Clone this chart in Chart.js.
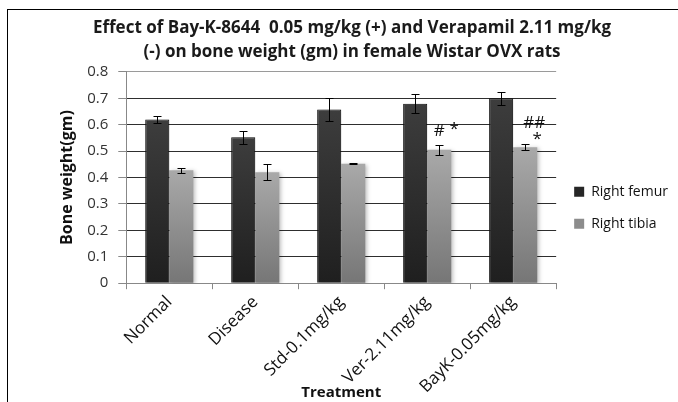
<!DOCTYPE html>
<html>
<head>
<meta charset="utf-8">
<script src="https://cdn.jsdelivr.net/npm/chart.js@4.4.1/dist/chart.umd.min.js"></script>
<style>
  html, body { margin: 0; padding: 0; background: #fff; }
  #wrap { position: relative; width: 678px; height: 402px; }
  #frame {
    position: absolute; left: 7px; top: 9px; width: 700px; height: 420px;
    border-left: 1px solid #000; border-top: 1px solid #000; pointer-events: none;
  }
</style>
</head>
<body>
<div id="wrap">
  <canvas id="boneChart" width="678" height="402"></canvas>
  <div id="frame"></div>
</div>
<script>
const treatments = ['Normal', 'Disease', 'Std-0.1mg/kg', 'Ver-2.11mg/kg', 'BayK-0.05mg/kg'];
const rightFemur = [0.62, 0.553, 0.658, 0.68, 0.70];
const rightTibia = [0.428, 0.42, 0.452, 0.505, 0.515];
const femurErr = [0.015, 0.025, 0.042, 0.035, 0.025];
const tibiaErr = [0.01, 0.03, 0.002, 0.02, 0.011];
const yTicks = [0, 0.1, 0.2, 0.3, 0.4, 0.5, 0.6, 0.7, 0.8];
// significance marks above the tibia bars: [category, text, dx, dy]
const tibiaMarks = [
  [3, '#', 0, -19],
  [3, '*', 15, -21],
  [4, '##', 9, -24],
  [4, '*', 12, -8]
];

const FONT = '"Open Sans", sans-serif';

function barGradient(topColor, bottomColor) {
  return (c) => {
    const chart = c.chart;
    const area = chart.chartArea;
    const y = chart.scales && chart.scales.y;
    if (!area || !y || c.raw === undefined) return bottomColor;
    const top = y.getPixelForValue(c.raw);
    const g = chart.ctx.createLinearGradient(0, top, 0, area.bottom);
    g.addColorStop(0, topColor);
    g.addColorStop(1, bottomColor);
    return g;
  };
}

const errorBars = {
  id: 'errorBars',
  afterDatasetsDraw(chart) {
    const ctx = chart.ctx;
    const y = chart.scales.y;
    const errs = [femurErr, tibiaErr];
    ctx.save();
    ctx.strokeStyle = '#000';
    ctx.lineWidth = 1;
    chart.data.datasets.forEach((ds, di) => {
      const meta = chart.getDatasetMeta(di);
      meta.data.forEach((bar, i) => {
        const v = ds.data[i], e = errs[di][i];
        const x = Math.round(bar.x) + 0.5;
        const yt = Math.round(y.getPixelForValue(v + e)) + 0.5;
        const yb = Math.round(y.getPixelForValue(v - e)) + 0.5;
        ctx.beginPath();
        ctx.moveTo(x, yt); ctx.lineTo(x, yb);
        ctx.moveTo(x - 4, yt); ctx.lineTo(x + 4, yt);
        ctx.moveTo(x - 4, yb); ctx.lineTo(x + 4, yb);
        ctx.stroke();
      });
    });
    // marks
    const tib = chart.getDatasetMeta(1);
    ctx.fillStyle = '#111';
    ctx.font = '17px ' + FONT;
    ctx.textAlign = 'center';
    ctx.textBaseline = 'middle';
    tibiaMarks.forEach(([i, t, dx, dy]) => {
      const bar = tib.data[i];
      ctx.fillText(t, bar.x + dx, y.getPixelForValue(rightTibia[i]) + dy);
    });
    ctx.restore();
  }
};

const barShadow = {
  id: 'barShadow',
  beforeDatasetsDraw(chart) {
    const ctx = chart.ctx;
    ctx.save();
    ctx.shadowColor = 'rgba(0,0,0,0.25)';
    ctx.shadowBlur = 4;
    ctx.shadowOffsetX = 2;
    ctx.shadowOffsetY = 1;
  },
  afterDatasetsDraw(chart) {
    chart.ctx.restore();
  }
};

new Chart(document.getElementById('boneChart'), {
  type: 'bar',
  data: {
    labels: treatments,
    datasets: [{
      label: 'Right femur',
      data: rightFemur,
      backgroundColor: barGradient('#3d3d3d', '#1f1f1f'),
      borderColor: '#111',
      borderWidth: 1
    }, {
      label: 'Right tibia',
      data: rightTibia,
      backgroundColor: barGradient('#a9a9a9', '#767676'),
      borderColor: '#8a8a8a',
      borderWidth: 0
    }]
  },
  options: {
    responsive: false,
    animation: false,
    categoryPercentage: 0.56,
    barPercentage: 1,
    layout: { padding: { left: 26, right: 0, top: 0, bottom: 0 } },
    plugins: {
      title: {
        display: true,
        text: ['Effect of Bay-K-8644  0.05 mg/kg (+) and Verapamil 2.11 mg/kg', '(-) on bone weight (gm) in female Wistar OVX rats'],
        color: '#1a1a1a',
        font: { family: FONT, size: 17, weight: 'bold', lineHeight: 1.41 },
        padding: { top: 16, bottom: 8 }
      },
      legend: {
        position: 'right',
        fullSize: false,
        align: 'center',
        title: { display: true, text: '', padding: { top: 46, bottom: 0 } },
        labels: {
          color: '#111',
          font: { family: FONT, size: 14 },
          boxWidth: 10,
          boxHeight: 10,
          padding: 18,
          generateLabels(chart) {
            const items = Chart.defaults.plugins.legend.labels.generateLabels(chart);
            const fills = ['#262626', '#8c8c8c'];
            items.forEach((it, i) => { it.fillStyle = fills[i]; it.strokeStyle = fills[i]; it.lineWidth = 0; });
            return items;
          }
        }
      },
      tooltip: { enabled: false }
    },
    scales: {
      x: {
        grid: { drawOnChartArea: false, tickLength: 6, color: '#888', offset: true },
        border: { color: '#888' },
        ticks: { color: '#111', font: { family: FONT, size: 17 }, minRotation: 45, maxRotation: 45, padding: 3 },
        title: { display: true, text: 'Treatment', color: '#111', font: { family: FONT, size: 15, weight: 'bold' }, padding: { top: -16, bottom: 0 } }
      },
      y: {
        min: 0,
        max: 0.8,
        afterBuildTicks(scale) { scale.ticks = yTicks.map(v => ({ value: v })); },
        grid: {
          color: (c) => (c.tick && c.tick.value === 0.8 ? '#9a9a9a' : '#2e2e2e'),
          tickColor: '#888',
          tickLength: 8
        },
        border: { color: '#888' },
        ticks: { color: '#333', font: { family: FONT, size: 15 }, padding: 10, callback: (v) => String(v) },
        title: { display: true, text: 'Bone weight(gm)', color: '#111', font: { family: FONT, size: 16, weight: 'bold' }, padding: { top: 32, bottom: 0 } }
      }
    }
  },
  plugins: [barShadow, errorBars]
});
</script>
</body>
</html>
